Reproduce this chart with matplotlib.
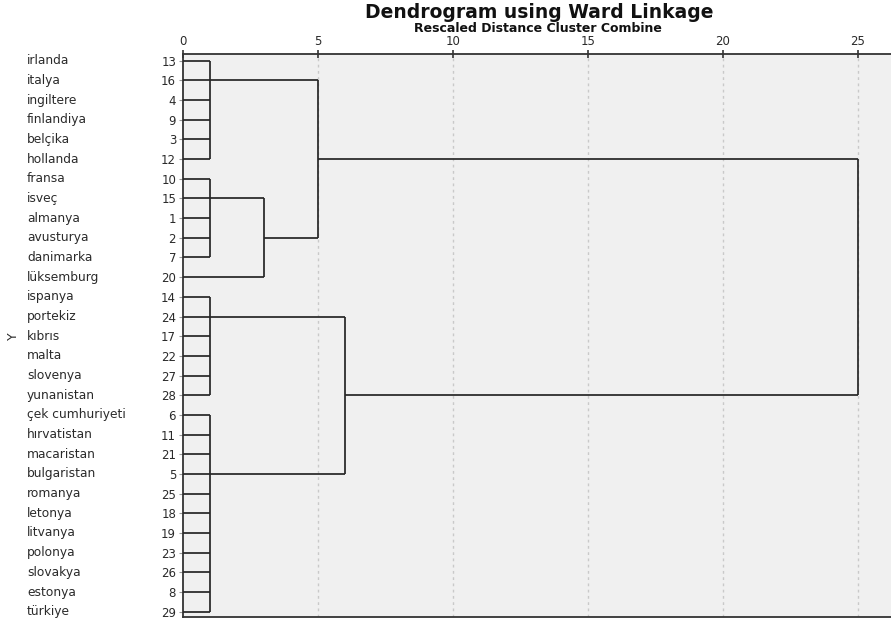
import matplotlib
matplotlib.use("Agg")
import matplotlib.pyplot as plt
from matplotlib.transforms import blended_transform_factory

# ---------------- data ----------------
names = ["irlanda", "italya", "ingiltere", "finlandiya", "belçika", "hollanda",
         "fransa", "isveç", "almanya", "avusturya", "danimarka", "lüksemburg",
         "ispanya", "portekiz", "kıbrıs", "malta", "slovenya", "yunanistan",
         "çek cumhuriyeti", "hırvatistan", "macaristan", "bulgaristan", "romanya",
         "letonya", "litvanya", "polonya", "slovakya", "estonya", "türkiye"]
case_ids = [13, 16, 4, 9, 3, 12, 10, 15, 1, 2, 7, 20, 14, 24, 17, 22, 27, 28,
            6, 11, 21, 5, 25, 18, 19, 23, 26, 8, 29]

# first-level clusters drawn as combs (rows first..last joined at distance)
comb_names = ["A", "B", "C", "D"]
comb_first = [0, 6, 12, 18]
comb_last = [5, 10, 17, 28]
comb_stem = [1, 7, 13, 21]
comb_dist = [1, 1, 1, 1]

# higher-level merges (leaf nodes referenced as "L<row>")
merge_names = ["BL", "ABL", "CD", "ALL"]
merge_left = ["B", "A", "C", "ABL"]
merge_right = ["L11", "BL", "D", "CD"]
merge_stem = [9, 5, 17, 11]
merge_dist = [3, 5, 6, 25]

x_ticks = [0, 5, 10, 15, 20, 25]

# ---------------- figure ----------------
W, H = 891, 620
fig = plt.figure(figsize=(W / 100, H / 100), dpi=100)
fig.patch.set_facecolor("white")
ax = fig.add_axes([183 / W, 1 - 617 / H, (W - 183) / W, (617 - 54) / H])
ax.set_facecolor("#f0f0f0")

n = len(names)
ax.set_xlim(0, (W - 183) / 27.0)
ax.set_ylim(28.27, -0.34)

line_kw = dict(color="#262626", lw=1.25, solid_capstyle="butt", zorder=3)

# grid
for t in x_ticks[1:]:
    ax.axvline(t, color="#c9c9c9", lw=1.0, ls=(0, (2, 2.5)), zorder=1)

nodes = {f"L{i}": (i, 0.0) for i in range(n)}

# combs
for nm, f, l, s, d in zip(comb_names, comb_first, comb_last, comb_stem, comb_dist):
    for r in range(f, l + 1):
        ax.plot([0, d], [r, r], **line_kw)
    ax.plot([d, d], [f, l], **line_kw)
    nodes[nm] = (s, d)

# merges
for nm, a, b, s, d in zip(merge_names, merge_left, merge_right, merge_stem, merge_dist):
    ra, xa = nodes[a]
    rb, xb = nodes[b]
    ax.plot([xa, d], [ra, ra], **line_kw)
    ax.plot([xb, d], [rb, rb], **line_kw)
    ax.plot([d, d], [ra, rb], **line_kw)
    nodes[nm] = (s, d)

# axes styling
for sp in ["top", "left", "bottom"]:
    ax.spines[sp].set_color("#333333")
    ax.spines[sp].set_linewidth(1.3)
ax.spines["right"].set_visible(False)

txt_col = "#2a2a2a"
ax.xaxis.tick_top()
ax.set_xticks(x_ticks)
ax.set_xticklabels([str(t) for t in x_ticks])
ax.tick_params(axis="x", direction="inout", length=6, width=1.2, color="#333333",
               labelsize=8.5, pad=1, labelcolor=txt_col)

ax.set_yticks(range(n))
ax.set_yticklabels([str(c) for c in case_ids])
ax.tick_params(axis="y", direction="out", length=3, width=0.8, color="#999999",
               labelsize=8.5, pad=2, labelcolor=txt_col)

trans = blended_transform_factory(ax.transAxes, ax.transData)
for i, nm in enumerate(names):
    ax.text((27 - 183) / (W - 183), i, nm, transform=trans, ha="left", va="center",
            fontsize=8.8, color=txt_col)

fig.text(13 / W, 1 - 336 / H, "Y", rotation=90, ha="center", va="center",
         fontsize=9, color=txt_col)

fig.text(539 / W, 1 - 13 / H, "Dendrogram using Ward Linkage", ha="center",
         va="center", fontsize=13.5, fontweight="bold", color="#111111")
fig.text(538 / W, 1 - 28 / H, "Rescaled Distance Cluster Combine", ha="center",
         va="center", fontsize=9, fontweight="bold", color="#111111")

fig.savefig("out.png", dpi=100)
